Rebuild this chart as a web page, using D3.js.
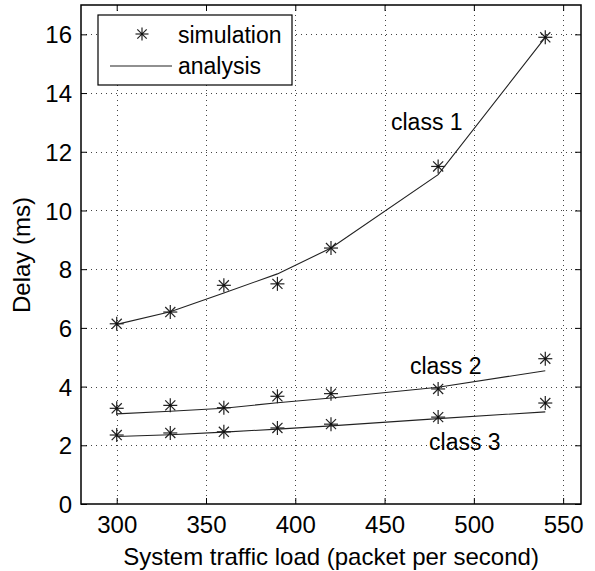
<!DOCTYPE html>
<html><head><meta charset="utf-8">
<script src="https://cdn.jsdelivr.net/npm/d3@7"></script>
<style>body{margin:0;background:#fff}svg{display:block}text{font-family:"Liberation Sans",Arial,Helvetica,sans-serif;fill:#000}</style>
</head><body>
<script>
const loads = [300, 330, 360, 390, 420, 480, 540];
const sim1 = [6.14, 6.54, 7.45, 7.50, 8.72, 11.5, 15.9];
const ana1 = [6.12, 6.55, 7.19, 7.84, 8.72, 11.22, 15.9];
const sim2 = [3.26, 3.36, 3.28, 3.67, 3.76, 3.92, 4.95];
const ana2 = [3.07, 3.16, 3.26, 3.45, 3.61, 3.98, 4.54];
const sim3 = [2.35, 2.42, 2.46, 2.59, 2.72, 2.96, 3.44];
const ana3 = [2.30, 2.36, 2.45, 2.55, 2.66, 2.91, 3.14];
const xTicks = [300, 350, 400, 450, 500, 550];
const yTicks = [0, 2, 4, 6, 8, 10, 12, 14, 16];
const classLabels = [
  {text: "class 1", x: 453.6, y: 12.75},
  {text: "class 2", x: 464.2, y: 4.44},
  {text: "class 3", x: 474.9, y: 1.85}
];
const W = 595, H = 571;
const m = {l: 81, r: 14, t: 5, b: 67};
const FS = 23, FT = 24;
const svg = d3.select("body").append("svg").attr("width", W).attr("height", H);
const x = d3.scaleLinear().domain([280, 560]).range([m.l, W - m.r]);
const y = d3.scaleLinear().domain([0, 17]).range([H - m.b, m.t]);
const pw = W - m.l - m.r, ph = H - m.t - m.b;

// grid
const grid = svg.append("g").attr("stroke", "#444").attr("stroke-width", 1).attr("stroke-dasharray", "1,4");
xTicks.forEach(v => grid.append("line").attr("x1", Math.round(x(v)) + 0.5).attr("x2", Math.round(x(v)) + 0.5).attr("y1", m.t).attr("y2", H - m.b));
yTicks.slice(1).forEach(v => grid.append("line").attr("y1", Math.round(y(v)) + 0.5).attr("y2", Math.round(y(v)) + 0.5).attr("x1", m.l).attr("x2", W - m.r));

// axes (ticks inside)
const xa = svg.append("g").attr("transform", `translate(0,${H - m.b})`)
  .call(d3.axisBottom(x).tickValues(xTicks).tickSizeInner(-6).tickSizeOuter(0).tickPadding(0));
const xt = svg.append("g").attr("transform", `translate(0,${m.t})`)
  .call(d3.axisTop(x).tickValues(xTicks).tickSizeInner(-6).tickSizeOuter(0).tickFormat(""));
const ya = svg.append("g").attr("transform", `translate(${m.l},0)`)
  .call(d3.axisLeft(y).tickValues(yTicks).tickSizeInner(-6).tickSizeOuter(0).tickPadding(9));
const yr = svg.append("g").attr("transform", `translate(${W - m.r},0)`)
  .call(d3.axisRight(y).tickValues(yTicks).tickSizeInner(-6).tickSizeOuter(0).tickFormat(""));
[xa, xt, ya, yr].forEach(g => {
  g.select(".domain").remove();
  g.selectAll("line").attr("stroke", "#000");
  g.selectAll("text").attr("font-size", FT).attr("font-family", '"Liberation Sans",Arial,sans-serif').attr("fill", "#000");
});
xa.selectAll("text").attr("y", 29).attr("dy", null);
ya.selectAll("text").attr("dy", "0.36em");
svg.append("rect").attr("x", m.l).attr("y", m.t).attr("width", pw).attr("height", ph)
  .attr("fill", "none").attr("stroke", "#000").attr("stroke-width", 1.5);

// lines
const line = d3.line().x((d, i) => x(loads[i])).y(d => y(d));
[ana1, ana2, ana3].forEach(a => svg.append("path").datum(a).attr("d", line)
  .attr("fill", "none").attr("stroke", "#222").attr("stroke-width", 1.1));

// star markers
function star(g, cx, cy, r) {
  const s = g.append("g").attr("transform", `translate(${cx},${cy})`).attr("stroke", "#222").attr("stroke-width", 1.2);
  s.append("line").attr("x1", -r).attr("x2", r).attr("y1", 0).attr("y2", 0);
  s.append("line").attr("x1", 0).attr("x2", 0).attr("y1", -r).attr("y2", r);
  const d = r * 0.72;
  s.append("line").attr("x1", -d).attr("x2", d).attr("y1", -d).attr("y2", d);
  s.append("line").attr("x1", -d).attr("x2", d).attr("y1", d).attr("y2", -d);
  s.append("circle").attr("r", 1.3).attr("fill", "#111").attr("stroke", "none");
}
const mk = svg.append("g");
[sim1, sim2, sim3].forEach(sv => sv.forEach((v, i) => star(mk, x(loads[i]), y(v), 7)));

// class labels
classLabels.forEach(c => svg.append("text").attr("x", x(c.x)).attr("y", y(c.y))
  .attr("font-size", FS).text(c.text));

// legend
const lg = svg.append("g");
lg.append("rect").attr("x", 98).attr("y", 15).attr("width", 194).attr("height", 70)
  .attr("fill", "#fff").attr("stroke", "#000").attr("stroke-width", 1.2);
star(lg, 142, 34, 6.5);
lg.append("line").attr("x1", 110).attr("x2", 172).attr("y1", 66).attr("y2", 66).attr("stroke", "#222").attr("stroke-width", 1.1);
lg.append("text").attr("x", 178).attr("y", 43).attr("font-size", FS).text("simulation");
lg.append("text").attr("x", 178).attr("y", 74).attr("font-size", FS).text("analysis");

// titles
svg.append("text").attr("x", (m.l + W - m.r) / 2).attr("y", 565).attr("text-anchor", "middle").attr("font-size", FT)
  .text("System traffic load (packet per second)");
svg.append("text").attr("transform", `translate(30,255) rotate(-90)`).attr("text-anchor", "middle")
  .attr("font-size", FT).text("Delay (ms)");
</script>
</body></html>
